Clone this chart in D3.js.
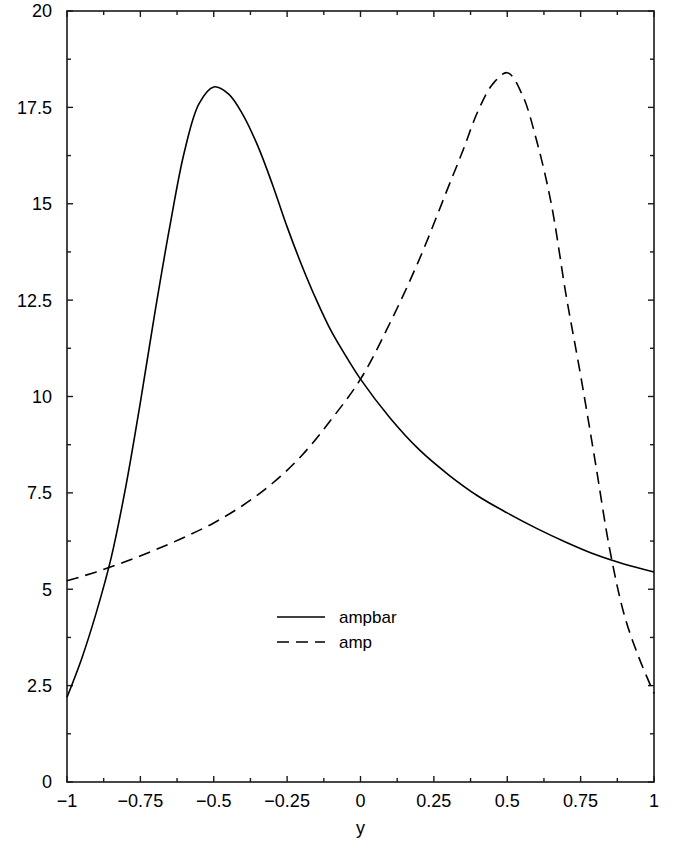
<!DOCTYPE html>
<html>
<head>
<meta charset="utf-8">
<script src="https://cdn.jsdelivr.net/npm/d3@7"></script>
<style>
  html, body { margin: 0; padding: 0; background: #fff; }
  svg { display: block; }
  text { font-family: "Liberation Sans", Arial, Helvetica, sans-serif; fill: #000; }
</style>
</head>
<body>
<svg id="chart" width="678" height="844"></svg>
<script>
// Sample positions along y and the two amplitude curves
const ampbarX = [-1, -0.95, -0.9, -0.85, -0.8, -0.75, -0.7, -0.65, -0.6, -0.55, -0.5, -0.45, -0.4, -0.35, -0.3, -0.25, -0.2, -0.15, -0.1, -0.05, 0, 0.1, 0.2, 0.3, 0.4, 0.5, 0.6, 0.7, 0.8, 0.9, 1];
const ampbarY = [2.2, 3.2, 4.4, 5.8, 7.65, 9.85, 12.2, 14.4, 16.35, 17.6, 18.03, 17.85, 17.3, 16.5, 15.5, 14.4, 13.4, 12.5, 11.7, 11.05, 10.45, 9.45, 8.62, 7.97, 7.42, 6.98, 6.58, 6.22, 5.9, 5.65, 5.45];

const ampX = [-1, -0.9, -0.8, -0.7, -0.6, -0.5, -0.4, -0.3, -0.2, -0.1, 0, 0.1, 0.2, 0.3, 0.35, 0.4, 0.45, 0.5, 0.55, 0.6, 0.65, 0.7, 0.75, 0.8, 0.85, 0.9, 0.95, 1];
const ampY = [5.22, 5.45, 5.72, 6.02, 6.35, 6.72, 7.18, 7.75, 8.47, 9.4, 10.45, 11.9, 13.55, 15.45, 16.4, 17.4, 18.1, 18.4, 17.85, 16.64, 15.0, 12.65, 10.55, 8.3, 6.0, 4.3, 3.2, 2.3];

const xTicks = [-1, -0.75, -0.5, -0.25, 0, 0.25, 0.5, 0.75, 1];
const yTicks = [0, 2.5, 5, 7.5, 10, 12.5, 15, 17.5, 20];
const seriesNames = ["ampbar", "amp"];
const xTitle = "y";

const svg = d3.select("#chart");
const plotL = 67, plotR = 654, plotT = 11, plotB = 782;

const x = d3.scaleLinear().domain([-1, 1]).range([plotL, plotR]);
const yS = d3.scaleLinear().domain([0, 20]).range([plotB, plotT]);

const fmt = v => {
  const s = String(Math.abs(v));
  return (v < 0 ? "\u2212" : "") + s;
};

const tickColor = "#1a1a1a";
const majorLen = 6, minorLen = 4;

// Minor tick positions halfway between labelled ticks
const xMinor = d3.range(-0.875, 1, 0.25);
const yMinor = d3.range(1.25, 20, 2.5);

const axisG = svg.append("g").attr("stroke", tickColor).attr("stroke-width", 1.4);

// bottom / top ticks, pointing inward
xTicks.forEach(v => {
  axisG.append("line").attr("x1", x(v)).attr("x2", x(v)).attr("y1", plotB).attr("y2", plotB - majorLen);
  axisG.append("line").attr("x1", x(v)).attr("x2", x(v)).attr("y1", plotT).attr("y2", plotT + majorLen);
});
xMinor.forEach(v => {
  axisG.append("line").attr("x1", x(v)).attr("x2", x(v)).attr("y1", plotB).attr("y2", plotB - minorLen);
  axisG.append("line").attr("x1", x(v)).attr("x2", x(v)).attr("y1", plotT).attr("y2", plotT + minorLen);
});
// left / right ticks
yTicks.forEach(v => {
  axisG.append("line").attr("y1", yS(v)).attr("y2", yS(v)).attr("x1", plotL).attr("x2", plotL + majorLen);
  axisG.append("line").attr("y1", yS(v)).attr("y2", yS(v)).attr("x1", plotR).attr("x2", plotR - majorLen);
});
yMinor.forEach(v => {
  axisG.append("line").attr("y1", yS(v)).attr("y2", yS(v)).attr("x1", plotL).attr("x2", plotL + minorLen);
  axisG.append("line").attr("y1", yS(v)).attr("y2", yS(v)).attr("x1", plotR).attr("x2", plotR - minorLen);
});

// frame
svg.append("rect")
  .attr("x", plotL).attr("y", plotT)
  .attr("width", plotR - plotL).attr("height", plotB - plotT)
  .attr("fill", "none").attr("stroke", tickColor).attr("stroke-width", 1.6);

// tick labels
svg.append("g").selectAll("text").data(xTicks).join("text")
  .attr("x", d => x(d)).attr("y", plotB + 25)
  .attr("text-anchor", "middle").attr("font-size", 18)
  .text(fmt);

svg.append("g").selectAll("text").data(yTicks).join("text")
  .attr("x", plotL - 15).attr("y", d => yS(d)).attr("dy", "0.36em")
  .attr("text-anchor", "end").attr("font-size", 18)
  .text(fmt);

svg.append("text").attr("x", (plotL + plotR) / 2).attr("y", plotB + 52)
  .attr("text-anchor", "middle").attr("font-size", 18).text(xTitle);

// curves
const line = d3.line().x(d => x(d[0])).y(d => yS(d[1])).curve(d3.curveCatmullRom.alpha(0.5));
const ampbarPts = ampbarX.map((v, i) => [v, ampbarY[i]]);
const ampPts = ampX.map((v, i) => [v, ampY[i]]);

svg.append("path").datum(ampbarPts).attr("d", line)
  .attr("fill", "none").attr("stroke", "#000").attr("stroke-width", 1.6);
svg.append("path").datum(ampPts).attr("d", line)
  .attr("fill", "none").attr("stroke", "#000").attr("stroke-width", 1.6)
  .attr("stroke-dasharray", "12,7");

// legend
const legY = [617, 642];
const legStyles = [null, "12,7"];
seriesNames.forEach((name, i) => {
  svg.append("line").attr("x1", 277).attr("x2", 325).attr("y1", legY[i]).attr("y2", legY[i])
    .attr("stroke", "#000").attr("stroke-width", 1.6)
    .attr("stroke-dasharray", legStyles[i]);
  svg.append("text").attr("x", 339).attr("y", legY[i]).attr("dy", "0.36em")
    .attr("font-size", 17).text(name);
});
</script>
</body>
</html>
